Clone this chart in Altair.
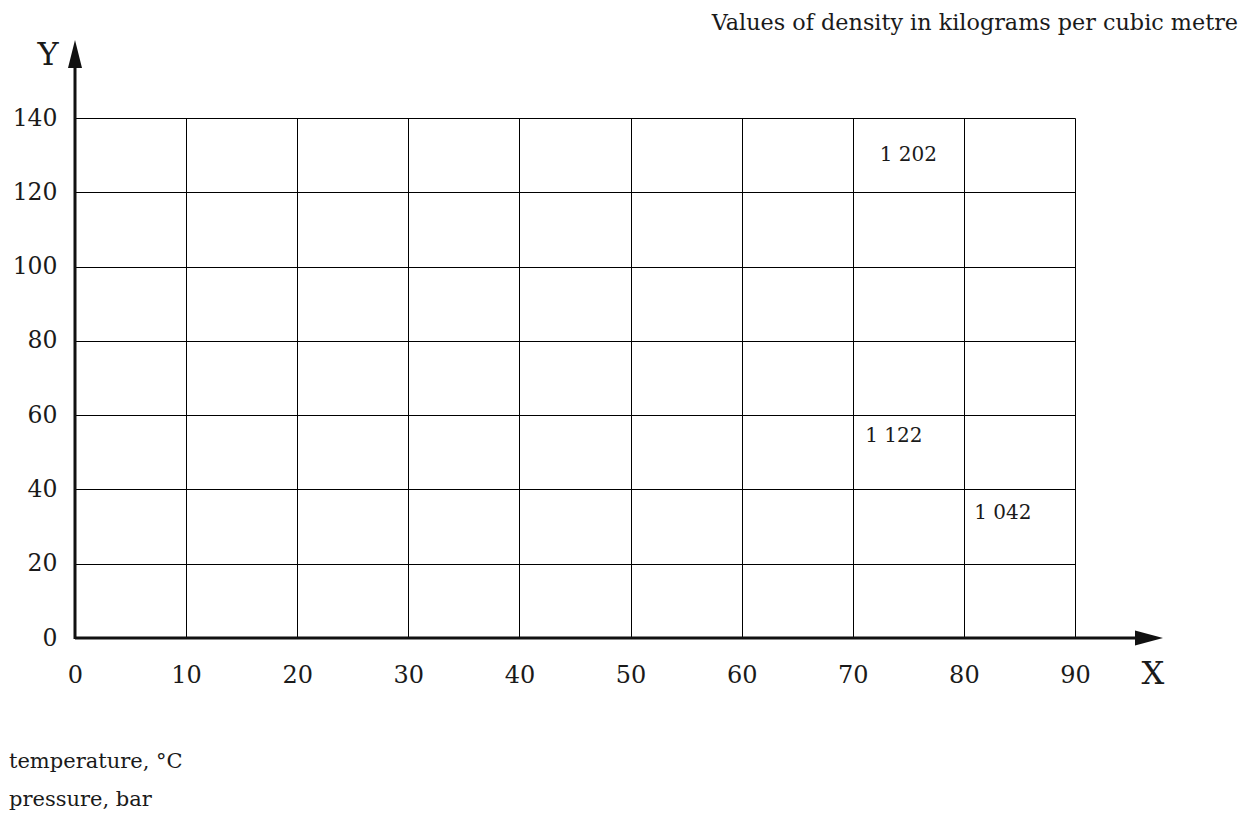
import altair as alt
import pandas as pd

# --- data ---
x_ticks = [0, 10, 20, 30, 40, 50, 60, 70, 80, 90]
y_ticks = [0, 20, 40, 60, 80, 100, 120, 140]
density_labels = ["1 202", "1 122", "1 042"]
label_temps = [75, 73.7, 83.5]
label_pressures = [130, 54.4, 33.6]

title_text = "Values of density in kilograms per cubic metre"
x_name = "X"
y_name = "Y"
legend_lines = ["temperature, °C", "pressure, bar"]

FONT = "DejaVu Serif"
INK = "#1a1a1a"

xs = alt.Scale(domain=[0, 90], nice=False, zero=False)
ys = alt.Scale(domain=[0, 140], nice=False, zero=False)

W, H = 1000, 520

lab_df = pd.DataFrame({
    "t": label_temps,
    "p": label_pressures,
    "txt": density_labels,
})

base_grid = alt.Chart(pd.DataFrame({"t": [0, 90], "p": [0, 140]})).mark_point(opacity=0).encode(
    x=alt.X("t:Q", scale=xs,
            axis=alt.Axis(values=x_ticks, title=None, domain=False, ticks=False,
                          grid=True, gridColor="#000", gridWidth=1, gridOpacity=1,
                          labelFont=FONT, labelFontSize=24, labelColor=INK,
                          labelPadding=25, labelFlush=False)),
    y=alt.Y("p:Q", scale=ys,
            axis=alt.Axis(values=y_ticks, title=None, domain=False, ticks=False,
                          grid=True, gridColor="#000", gridWidth=1, gridOpacity=1,
                          labelFont=FONT, labelFontSize=23.5, labelColor=INK,
                          labelPadding=18, labelFlush=False)),
)

labels = alt.Chart(lab_df).mark_text(font=FONT, fontSize=20, color=INK,
                                     align="center", baseline="middle").encode(
    x=alt.X("t:Q", scale=xs), y=alt.Y("p:Q", scale=ys), text="txt:N")

# axis lines with arrows (decorations in pixel space)
one = pd.DataFrame({"a": [0]})
x_axis_line = alt.Chart(one).mark_rule(color="#111", strokeWidth=3).encode(
    x=alt.value(0), x2=alt.value(1065), y=alt.value(H))
y_axis_line = alt.Chart(one).mark_rule(color="#111", strokeWidth=3).encode(
    x=alt.value(0), y=alt.value(H + 1), y2=alt.value(-55))
x_arrow = alt.Chart(one).mark_point(
    shape="M-1,-0.54 L1,0 L-1,0.54 Z", filled=True, color="#111", opacity=1, size=784
).encode(x=alt.value(1074), y=alt.value(H))
y_arrow = alt.Chart(one).mark_point(
    shape="M-0.5,1 L0,-1 L0.5,1 Z", filled=True, color="#111", opacity=1, size=784
).encode(x=alt.value(0), y=alt.value(-64))

x_lab = alt.Chart(one).mark_text(text=x_name, font=FONT, fontSize=32, color=INK,
                                 align="center", baseline="alphabetic").encode(
    x=alt.value(1078), y=alt.value(566))
y_lab = alt.Chart(one).mark_text(text=y_name, font=FONT, fontSize=32, color=INK,
                                 align="center", baseline="alphabetic").encode(
    x=alt.value(-27), y=alt.value(-53))

title = alt.Chart(one).mark_text(text=title_text, font=FONT, fontSize=22.3, color=INK,
                                 align="right", baseline="alphabetic").encode(
    x=alt.value(1163), y=alt.value(-88))

leg1 = alt.Chart(one).mark_text(text=legend_lines[0], font=FONT, fontSize=21, color=INK,
                                align="left", baseline="alphabetic").encode(
    x=alt.value(-66), y=alt.value(650))
leg2 = alt.Chart(one).mark_text(text=legend_lines[1], font=FONT, fontSize=21, color=INK,
                                align="left", baseline="alphabetic").encode(
    x=alt.value(-66), y=alt.value(688))

chart = alt.layer(
    base_grid, labels, x_axis_line, y_axis_line, x_arrow, y_arrow,
    x_lab, y_lab, title, leg1, leg2
).properties(
    width=W, height=H,
    autosize=alt.AutoSizeParams(type="none"),
    padding={"left": 67, "top": 110, "right": 174, "bottom": 175},
).configure_view(stroke="#000", strokeWidth=1).configure(background="white")

chart.save("out.html", embed_options={"renderer": "svg", "actions": False})
